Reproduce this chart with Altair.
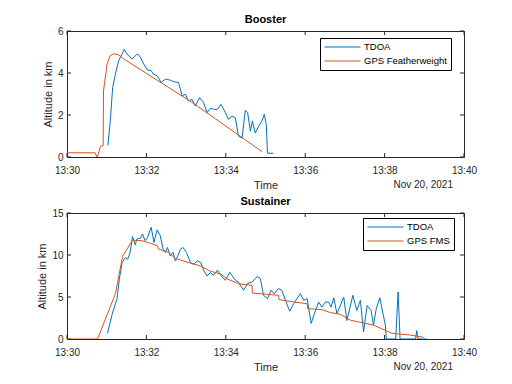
import altair as alt
import pandas as pd

# minutes after 13:30, altitude in km
booster_tdoa_t = [1.03, 1.09, 1.15, 1.22, 1.30, 1.39, 1.44, 1.51, 1.64, 1.72, 1.78, 1.85, 1.93, 2.03,
                  2.12, 2.18, 2.27, 2.37, 2.48, 2.60, 2.70, 2.81, 2.90, 2.98, 3.06, 3.15, 3.23, 3.34,
                  3.44, 3.53, 3.61, 3.71, 3.79, 3.88, 3.99, 4.07, 4.15, 4.24, 4.32, 4.41, 4.49, 4.55,
                  4.62, 4.67, 4.74, 4.83, 4.91, 4.97, 5.02, 5.05, 5.20]
booster_tdoa_alt = [0.55, 1.70, 3.31, 3.95, 4.59, 4.91, 5.12, 4.91, 4.67, 4.83, 4.91, 4.75, 4.43, 4.14,
                    4.11, 3.95, 3.87, 3.55, 3.71, 3.66, 3.58, 3.55, 2.91, 2.99, 2.67, 2.75, 2.43, 2.83,
                    2.59, 2.11, 2.32, 2.27, 2.27, 2.51, 2.11, 1.79, 1.95, 1.87, 0.99, 0.90, 2.22, 2.11,
                    1.23, 1.71, 1.14, 1.47, 1.71, 2.03, 1.55, 0.18, 0.18]
booster_gps_t = [0.0, 0.71, 0.76, 0.84, 0.91, 0.92, 1.01, 1.09, 1.18, 1.30, 1.43, 3.19, 4.91]
booster_gps_alt = [0.2, 0.2, -0.05, 0.5, 0.55, 3.15, 4.43, 4.83, 4.91, 4.87, 4.67, 2.55, 0.26]

sustainer_tdoa_t = [1.02, 1.13, 1.26, 1.32, 1.39, 1.47, 1.53, 1.59, 1.65, 1.72, 1.76, 1.85, 1.90, 1.97,
                    2.03, 2.12, 2.19, 2.27, 2.35, 2.42, 2.48, 2.53, 2.60, 2.67, 2.73, 2.79, 2.86, 2.92,
                    3.01, 3.11, 3.19, 3.29, 3.37, 3.44, 3.53, 3.61, 3.69, 3.79, 3.90, 3.99, 4.10, 4.18,
                    4.24, 4.32, 4.45, 4.55, 4.66, 4.79, 4.87, 4.95, 5.05, 5.14, 5.22, 5.33, 5.41, 5.52,
                    5.61, 5.71, 5.79, 5.88, 5.96, 6.05, 6.15, 6.23, 6.34, 6.42, 6.51, 6.59, 6.65, 6.72,
                    6.80, 6.97, 7.05, 7.20, 7.30, 7.39, 7.47, 7.56, 7.66, 7.72, 7.79, 7.88, 7.96, 8.02,
                    8.04, 8.28, 8.34, 8.39, 8.78, 8.81, 8.84, 9.07]
sustainer_tdoa_alt = [0.67, 2.83, 4.8, 7.2, 9.1, 9.7, 9.5, 10.3, 12.2, 11.2, 11.9, 12.0, 12.5, 11.7,
                      12.1, 13.3, 11.5, 13.0, 12.3, 10.7, 10.3, 10.9, 9.9, 10.3, 9.3, 9.9, 10.7, 10.9,
                      10.3, 9.1, 8.9, 9.3, 9.1, 8.2, 7.5, 7.9, 7.6, 8.2, 7.4, 7.0, 7.95, 7.4,
                      7.0, 6.77, 5.8, 6.6, 6.77, 7.44, 7.2, 5.2, 4.8, 5.8, 5.4, 6.0, 5.8, 4.4,
                      3.3, 4.2, 4.8, 5.4, 4.6, 4.8, 1.85, 3.0, 4.4, 3.8, 4.4, 4.4, 3.8, 4.9,
                      3.0, 5.0, 2.2, 5.2, 3.4, 4.6, 0.86, 4.0, 3.4, 1.65, 3.6, 4.9, 3.0, 1.65,
                      0.0, 0.0, 5.6, 0.0, 0.0, 1.0, 0.0, 0.0]
sustainer_gps_t = [0.0, 0.77, 1.22, 1.40, 1.65, 1.89, 2.10, 2.27, 2.31, 2.56, 2.73, 3.06, 3.36, 3.61,
                   3.86, 4.03, 4.32, 4.66, 4.67, 5.33, 5.34, 5.71, 6.05, 6.06, 6.42, 6.63, 6.88, 7.14,
                   7.72, 8.06, 8.19, 8.65, 8.98]
sustainer_gps_alt = [0.0, 0.0, 5.4, 9.84, 11.77, 11.7, 11.4, 11.1, 10.7, 10.3, 9.6, 9.1, 8.7, 8.07,
                     7.76, 7.17, 6.58, 6.38, 5.47, 5.2, 4.69, 4.41, 4.2, 3.62, 3.5, 3.15, 2.95, 2.24,
                     1.65, 0.94, 0.67, 0.47, 0.2]

tick_minutes = [0, 2, 4, 6, 8, 10]
date_label = "Nov 20, 2021"
colors = ["#0072BD", "#D95319"]

FONT = "Liberation Sans"
AX = "#262626"
W, H = 397, 126


def make_df(t1, a1, n1, t2, a2, n2):
    rows = []
    i = 0
    for t, a in zip(t1, a1):
        rows.append({"t": t, "alt": a, "series": n1, "i": i}); i += 1
    for t, a in zip(t2, a2):
        rows.append({"t": t, "alt": a, "series": n2, "i": i}); i += 1
    return pd.DataFrame(rows)


def panel(df, title, names, ymax, yticks, lx, ly):
    xs = alt.Scale(domain=[0, 10], nice=False, zero=False)
    ys = alt.Scale(domain=[0, ymax], nice=False)
    x_axis = alt.Axis(values=tick_minutes, labelExpr="'13:' + (30 + datum.value)",
                      title="Time", ticks=False, domain=False, grid=False, labelFlush=False,
                      labelPadding=8, titlePadding=4,
                      labelFont=FONT, labelFontSize=10, labelColor=AX,
                      titleFont=FONT, titleFontSize=11, titleColor=AX,
                      titleFontWeight="normal")
    y_axis = alt.Axis(values=yticks, title="Altitude in km", ticks=False, domain=False,
                      grid=False, labelFlush=False, labelPadding=4, titlePadding=4,
                      labelFont=FONT, labelFontSize=10, labelColor=AX,
                      titleFont=FONT, titleFontSize=11, titleColor=AX,
                      titleFontWeight="normal")
    tick_df = pd.DataFrame({"t": tick_minutes})
    ytick_df = pd.DataFrame({"alt": yticks})
    top_ticks = alt.Chart(tick_df).mark_rule(color=AX, strokeWidth=1).encode(
        x=alt.X("t:Q", scale=xs, axis=x_axis), y=alt.value(0), y2=alt.value(4))
    bottom_ticks = alt.Chart(tick_df).mark_rule(color=AX, strokeWidth=1).encode(
        x=alt.X("t:Q", scale=xs, axis=x_axis), y=alt.value(H - 4), y2=alt.value(H))
    right_ticks = alt.Chart(ytick_df).mark_rule(color=AX, strokeWidth=1).encode(
        y=alt.Y("alt:Q", scale=ys, axis=y_axis), x=alt.value(W - 4), x2=alt.value(W))
    left_ticks = alt.Chart(ytick_df).mark_rule(color=AX, strokeWidth=1).encode(
        y=alt.Y("alt:Q", scale=ys, axis=y_axis), x=alt.value(0), x2=alt.value(4))
    date = alt.Chart(pd.DataFrame({"label": [date_label]})).mark_text(
        align="right", baseline="middle", font=FONT, fontSize=10, color=AX
    ).encode(text="label:N", x=alt.value(W - 11), y=alt.value(H + 28))
    lines = alt.Chart(df).mark_line(strokeWidth=1, clip=True).encode(
        x=alt.X("t:Q", scale=xs, axis=x_axis),
        y=alt.Y("alt:Q", scale=ys, axis=y_axis),
        color=alt.Color("series:N", scale=alt.Scale(domain=names, range=colors),
                        legend=alt.Legend(title=None, orient="none", legendX=lx, legendY=ly,
                                          symbolType="M-1,0H7", symbolSize=81,
                                          symbolStrokeWidth=1,
                                          labelFont=FONT, labelFontSize=9.5, labelColor="black",
                                          strokeColor="black", fillColor="white", padding=4,
                                          rowPadding=4, labelOffset=30, direction="vertical")),
        order=alt.Order("i:Q"),
    )
    return alt.layer(top_ticks, bottom_ticks, right_ticks, left_ticks, date, lines).properties(
        width=W, height=H,
        title=alt.TitleParams(title, font=FONT, fontSize=11, fontWeight="bold", color="black",
                              offset=1, frame="group", anchor="middle"),
    )


top = panel(make_df(booster_tdoa_t, booster_tdoa_alt, "TDOA", booster_gps_t, booster_gps_alt,
                    "GPS Featherweight"),
            "Booster", ["TDOA", "GPS Featherweight"], 6, [0, 2, 4, 6], 253, 7)
bottom = panel(make_df(sustainer_tdoa_t, sustainer_tdoa_alt, "TDOA", sustainer_gps_t,
                       sustainer_gps_alt, "GPS FMS"),
               "Sustainer", ["TDOA", "GPS FMS"], 15, [0, 5, 10, 15], 296, 5)

chart = alt.vconcat(top, bottom, spacing=4).resolve_scale(color="independent").properties(
    padding={"left": 28, "top": 5, "right": 5, "bottom": 0},
    background="white",
).configure_view(stroke=AX, strokeWidth=1)

chart.save("out.html", embed_options={"renderer": "svg", "actions": False})
